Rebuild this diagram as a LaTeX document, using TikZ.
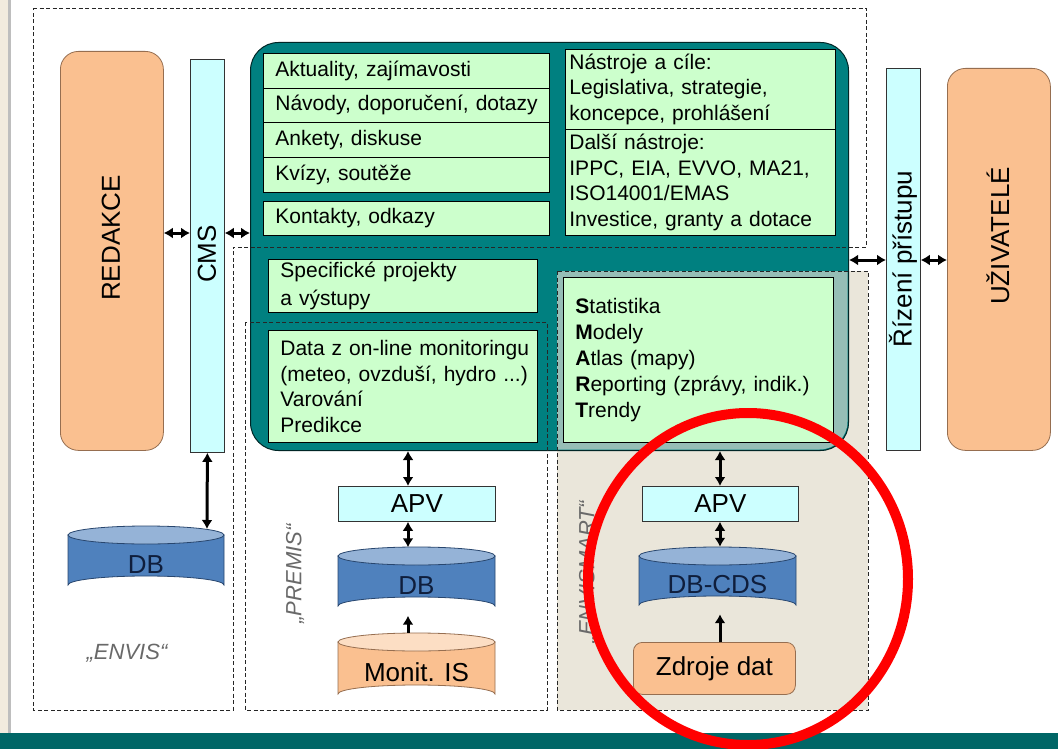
\documentclass[tikz,border=0pt]{standalone}
\usepackage{fontspec}
\setmainfont{Liberation Sans}
\usetikzlibrary{arrows.meta}
\definecolor{tealA}{RGB}{0,128,128}
\definecolor{tealBar}{RGB}{0,102,102}
\definecolor{greenbox}{RGB}{204,255,204}
\definecolor{cyanbox}{RGB}{204,255,255}
\definecolor{peach}{RGB}{250,192,144}
\definecolor{peachtop}{RGB}{252,222,196}
\definecolor{peachedge}{RGB}{150,110,80}
\definecolor{beige}{RGB}{234,230,218}
\definecolor{overlapc}{RGB}{150,190,182}
\definecolor{dbbody}{RGB}{79,129,189}
\definecolor{dbtop}{RGB}{149,179,215}
\definecolor{dbedge}{RGB}{40,70,110}
\definecolor{dbtext}{RGB}{15,30,60}
\definecolor{slidebg}{RGB}{242,235,222}
\definecolor{slideline}{RGB}{190,190,190}
\definecolor{labelgray}{RGB}{105,105,105}
\begin{document}
\begin{tikzpicture}[x=1pt,y=-1pt,
  gbox/.style={draw=black, line width=0.8pt, fill=greenbox, anchor=north west,
    inner xsep=12pt, inner ysep=0pt, align=left,
    font=\fontsize{21}{25.5}\selectfont},
  cbox/.style={draw=black!80, line width=0.8pt, fill=cyanbox, anchor=north west,
    inner sep=0pt, font=\fontsize{26}{30}\selectfont},
  pbox/.style={draw=peachedge, line width=0.8pt, fill=peach, anchor=north west,
    inner sep=0pt, font=\fontsize{26}{30}\selectfont},
  vlabel/.style={font=\fontsize{26}{30}\selectfont, inner sep=0pt},
  glabel/.style={font=\fontsize{22}{26}\selectfont\itshape, text=labelgray, inner sep=0pt},
  dbtxt/.style={font=\fontsize{26}{30}\selectfont, text=dbtext, inner sep=0pt},
  dashbox/.style={draw=black!85, line width=0.9pt, dash pattern=on 4pt off 2.5pt},
  dbl/.style={line width=3pt, {Latex[length=9pt,width=11pt]}-{Latex[length=9pt,width=11pt]}},
  sgl/.style={line width=3pt, -{Latex[length=9pt,width=11pt]}}
]
\useasboundingbox (0,0) rectangle (1058,749);
% slide background
\fill[white] (0,0) rectangle (1058,749);
\fill[slidebg] (0,0) rectangle (8,733);
\fill[slideline] (8,0) rectangle (11,733);
\fill[tealBar] (0,733) rectangle (1058,749);

% ENVISMART beige area
\fill[beige] (557,271) rectangle (868,710);

% central teal portal
\node[draw=black!70!tealA, line width=1pt, fill=tealA, rounded corners=28pt,
  anchor=north west, minimum width=598, minimum height=408, inner sep=0pt] (portal) at (250,42) {};
\begin{scope}
  \clip (557,271) rectangle (868,710);
  \fill[overlapc, rounded corners=28pt] (250.5,42.5) rectangle (847.5,449.5);
\end{scope}

% dashed system boundaries
\draw[dashbox] (33,8) -- (866,8) -- (866,247) -- (233,247) -- (233,710) -- (33,710) -- cycle;
\draw[dashbox] (245,322) rectangle (547,710);
\draw[dashbox] (557,271) rectangle (868,710);

% green content boxes
\node[gbox, text width=262, minimum height=35] (akt) at (263,53) {\mbox{Aktuality, zajímavosti}};
\node[gbox, text width=262, minimum height=34] (nav) at (263,88) {\mbox{Návody, doporučení, dotazy}};
\node[gbox, text width=262, minimum height=35] (ank) at (263,122) {\mbox{Ankety, diskuse}};
\node[gbox, text width=262, minimum height=35] (kvi) at (263,157) {\mbox{Kvízy, soutěže}};
\node[gbox, text width=262, minimum height=34] (kon) at (263,201) {\mbox{Kontakty, odkazy}};
\node[gbox, inner xsep=4pt, text width=262, minimum height=80] (nas) at (565,49)
  {\mbox{Nástroje a cíle:}\\\mbox{Legislativa, strategie,}\\\mbox{koncepce, prohlášení}};
\node[gbox, inner xsep=4pt, text width=262, minimum height=106] (dal) at (565,129)
  {\mbox{Další nástroje:}\\\mbox{IPPC, EIA, EVVO, MA21,}\\\mbox{ISO14001/EMAS}\\\mbox{Investice, granty a dotace}};
\node[gbox, text width=245, minimum height=53, font=\fontsize{21}{28}\selectfont] (spe) at (268,259)
  {\mbox{Specifické projekty}\\\mbox{a výstupy}};
\node[gbox, text width=245, minimum height=112] (dat) at (268,330)
  {\mbox{Data z on-line monitoringu}\\\mbox{(meteo, ovzduší, hydro ...)}\\\mbox{Varování}\\\mbox{Predikce}};
\node[gbox, text width=246, minimum height=165, font=\fontsize{21}{26}\selectfont] (sta) at (563,277)
  {\mbox{\textbf{S}tatistika}\\\mbox{\textbf{M}odely}\\\mbox{\textbf{A}tlas (mapy)}\\\mbox{\textbf{R}eporting (zprávy, indik.)}\\\mbox{\textbf{T}rendy}};

% side columns
\node[pbox, rounded corners=18pt, minimum width=103, minimum height=399] (redakce) at (60,51) {};
\node[vlabel, rotate=90] (redakceT) at (111,238) {REDAKCE};
\node[cbox, minimum width=34, minimum height=393] (cms) at (190,59) {};
\node[vlabel, rotate=90] (cmsT) at (207,254) {CMS};
\node[cbox, minimum width=34, minimum height=382] (riz) at (886,68) {};
\node[vlabel, rotate=90] (rizT) at (903,259) {Řízení přístupu};
\node[pbox, rounded corners=18pt, minimum width=103, minimum height=382] (uzi) at (947,68) {};
\node[vlabel, rotate=90] (uziT) at (998,236) {UŽIVATELÉ};

% APV boxes
\node[cbox, minimum width=157, minimum height=35] (apv1) at (338,486) {APV};
\node[cbox, minimum width=156, minimum height=35] (apv2) at (642,486) {APV};
\node[pbox, rounded corners=9pt, minimum width=162, minimum height=52] (zdr) at (633,642) {Zdroje dat};

% cylinders
% ENVIS DB
\fill[dbbody, draw=dbedge, line width=0.8pt] (68,535) -- (68,585) arc[start angle=180, end angle=360, x radius=78, y radius=9] -- (224,535) -- cycle;
\draw[fill=dbtop, draw=dbedge, line width=0.8pt] (146,535) ellipse [x radius=78, y radius=9];
\node[dbtxt, minimum width=156, minimum height=59] (db1) at (146,564.5) {DB};
% PREMIS DB
\fill[dbbody, draw=dbedge, line width=0.8pt] (338,556) -- (338,606) arc[start angle=180, end angle=360, x radius=78.5, y radius=9] -- (495,556) -- cycle;
\draw[fill=dbtop, draw=dbedge, line width=0.8pt] (416.5,556) ellipse [x radius=78.5, y radius=9];
\node[dbtxt, minimum width=157, minimum height=59] (db2) at (416.5,586) {DB};
% Monit IS
\fill[peach, draw=peachedge, line width=0.8pt] (338,642) -- (338,694) arc[start angle=180, end angle=360, x radius=78.5, y radius=9] -- (495,642) -- cycle;
\draw[fill=peachtop, draw=peachedge, line width=0.8pt] (416.5,642) ellipse [x radius=78.5, y radius=9];
\node[vlabel, minimum width=157, minimum height=61] (mon) at (416.5,672.5) {Monit. IS};
% DB-CDS
\fill[dbbody, draw=dbedge, line width=0.8pt] (639,556) -- (639,605) arc[start angle=180, end angle=360, x radius=78.5, y radius=9] -- (796,556) -- cycle;
\draw[fill=dbtop, draw=dbedge, line width=0.8pt] (717.5,556) ellipse [x radius=78.5, y radius=9];
\node[dbtxt, minimum width=157, minimum height=58] (db3) at (717.5,585) {DB-CDS};

% connector end points
\coordinate (ay) at (0,233);
\coordinate (by) at (0,260);
\coordinate (db1top) at (207,529);
\coordinate (px) at (408,0);
\coordinate (sx) at (720,0);

% connectors
\draw[dbl] (redakce.east |- ay) -- (cms.west |- ay);
\draw[dbl] (cms.east |- ay) -- (portal.west |- ay);
\draw[dbl] (portal.east |- by) -- (riz.west |- by);
\draw[dbl] (riz.east |- by) -- (uzi.west |- by);
\draw[dbl] (cms.south) -- (db1top);
\draw[dbl] (px |- portal.south) -- (px |- apv1.north);
\draw[dbl] (px |- apv1.south) -- ([yshift=9pt]px |- db2.north);
\draw[sgl] ([yshift=9pt]px |- mon.north) -- (px |- db2.south);
\draw[dbl] (sx |- portal.south) -- (sx |- apv2.north);
\draw[dbl] (sx |- apv2.south) -- ([yshift=9pt]sx |- db3.north);
\draw[sgl] (sx |- zdr.north) -- (sx |- db3.south);

% system labels
\node[glabel] (envisL) at (127,653) {„ENVIS“};
\node[glabel, rotate=90] (premisL) at (295,574) {„PREMIS“};
\node[glabel, rotate=90] (esL) at (588,572) {„ENVISMART“};

% red highlight
\draw[red, line width=10pt] (748,579) ellipse [x radius=160, y radius=166];
\end{tikzpicture}
\end{document}
